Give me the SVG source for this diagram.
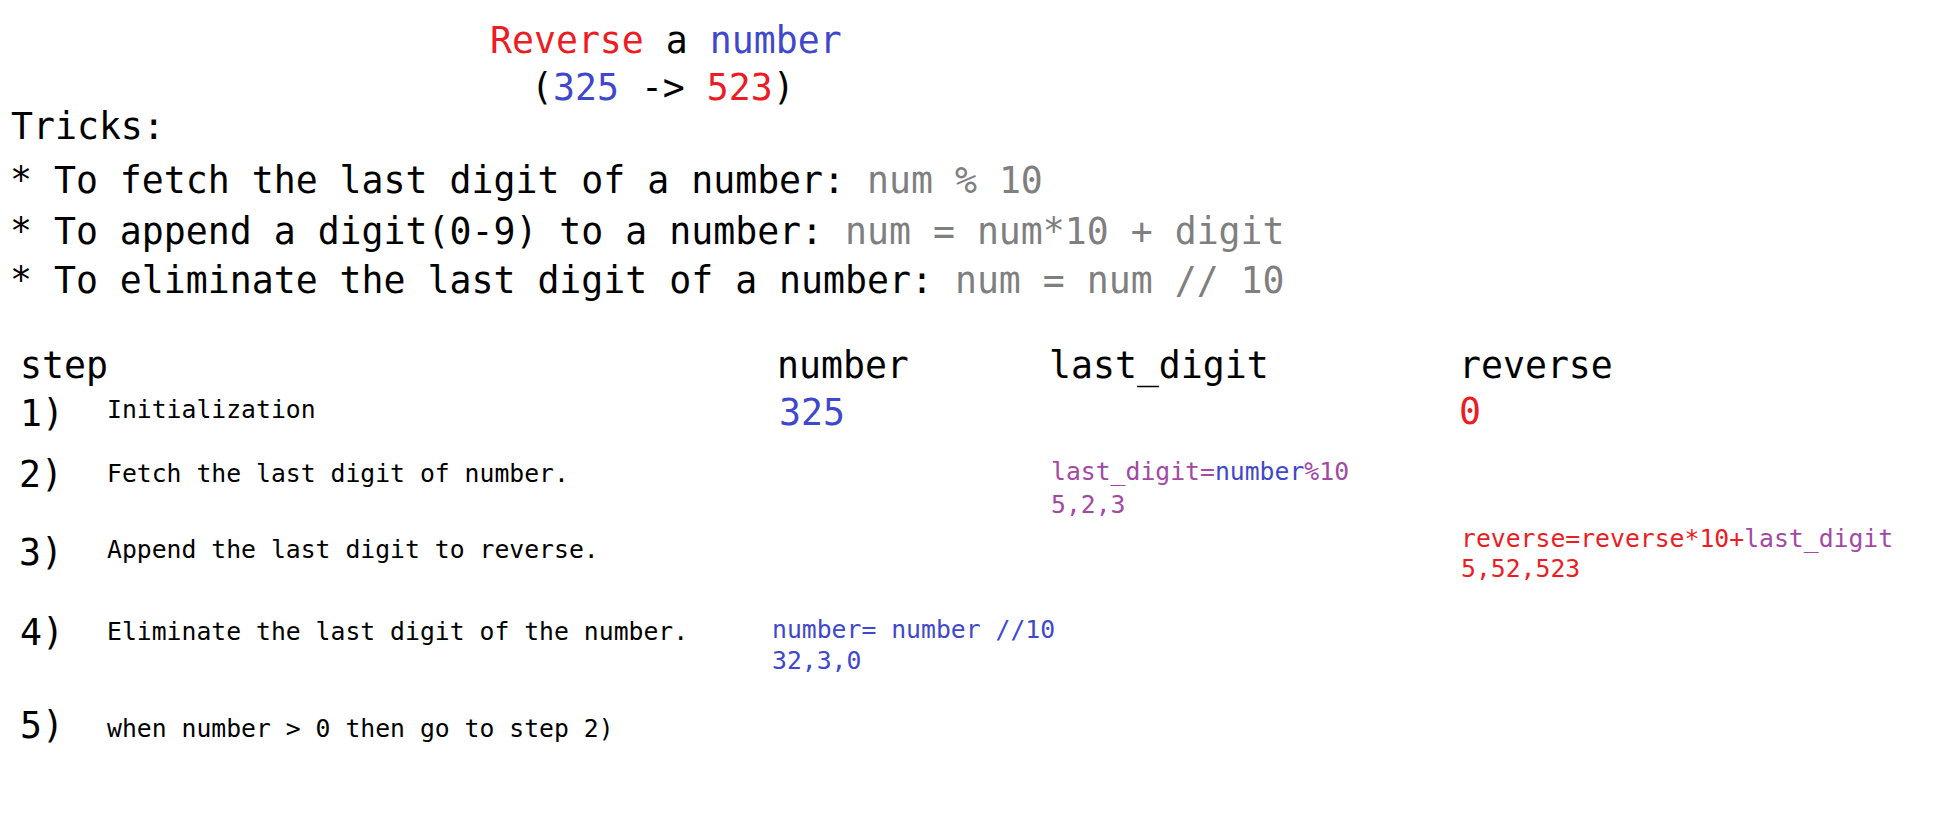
<svg xmlns="http://www.w3.org/2000/svg" width="1946" height="816" viewBox="0 0 1946 816">
<style>
text{font-family:"DejaVu Sans Mono","Liberation Mono",monospace;fill:#000;white-space:pre}
.big{font-size:36.5px}
.sm{font-size:24.75px}
.r{fill:#ed1c24}
.b{fill:#3f48cc}
.p{fill:#a349a4}
.g{fill:#7f7f7f}
</style>
<rect width="1946" height="816" fill="#fff"/>
<g id="title">
<text class="big" x="490" y="53"><tspan class="r">Reverse</tspan><tspan> a </tspan><tspan class="b">number</tspan></text>
<text class="big" x="531" y="100"><tspan>(</tspan><tspan class="b">325</tspan><tspan> -&gt; </tspan><tspan class="r">523</tspan><tspan>)</tspan></text>
</g>
<g id="tricks">
<text class="big" x="11" y="139">Tricks:</text>
<text class="big" x="10" y="193"><tspan>* To fetch the last digit of a number: </tspan><tspan class="g">num % 10</tspan></text>
<text class="big" x="10" y="244"><tspan>* To append a digit(0-9) to a number: </tspan><tspan class="g">num = num*10 + digit</tspan></text>
<text class="big" x="10" y="293"><tspan>* To eliminate the last digit of a number: </tspan><tspan class="g">num = num // 10</tspan></text>
</g>
<g id="header">
<text class="big" x="20" y="378">step</text>
<text class="big" x="777" y="378">number</text>
<text class="big" x="1049" y="378">last_digit</text>
<text class="big" x="1459" y="378">reverse</text>
</g>
<g id="step1">
<text class="big" x="20" y="426">1)</text>
<text class="sm" x="107" y="418">Initialization</text>
<text class="big b" x="779" y="425">325</text>
<text class="big r" x="1459" y="424">0</text>
</g>
<g id="step2">
<text class="big" x="19" y="487">2)</text>
<text class="sm" x="107" y="482">Fetch the last digit of number.</text>
<text class="sm" x="1051" y="480"><tspan class="p">last_digit=</tspan><tspan class="b">number</tspan><tspan class="p">%10</tspan></text>
<text class="sm p" x="1051" y="513">5,2,3</text>
</g>
<g id="step3">
<text class="big" x="19" y="565">3)</text>
<text class="sm" x="107" y="558">Append the last digit to reverse.</text>
<text class="sm" x="1461" y="547"><tspan class="r">reverse=reverse*10+</tspan><tspan class="p">last_digit</tspan></text>
<text class="sm r" x="1461" y="577">5,52,523</text>
</g>
<g id="step4">
<text class="big" x="20" y="645">4)</text>
<text class="sm" x="107" y="640">Eliminate the last digit of the number.</text>
<text class="sm b" x="772" y="638">number= number //10</text>
<text class="sm b" x="772" y="669">32,3,0</text>
</g>
<g id="step5">
<text class="big" x="20" y="738">5)</text>
<text class="sm" x="107" y="737">when number &gt; 0 then go to step 2)</text>
</g>
<g id="connectors"/>
</svg>
